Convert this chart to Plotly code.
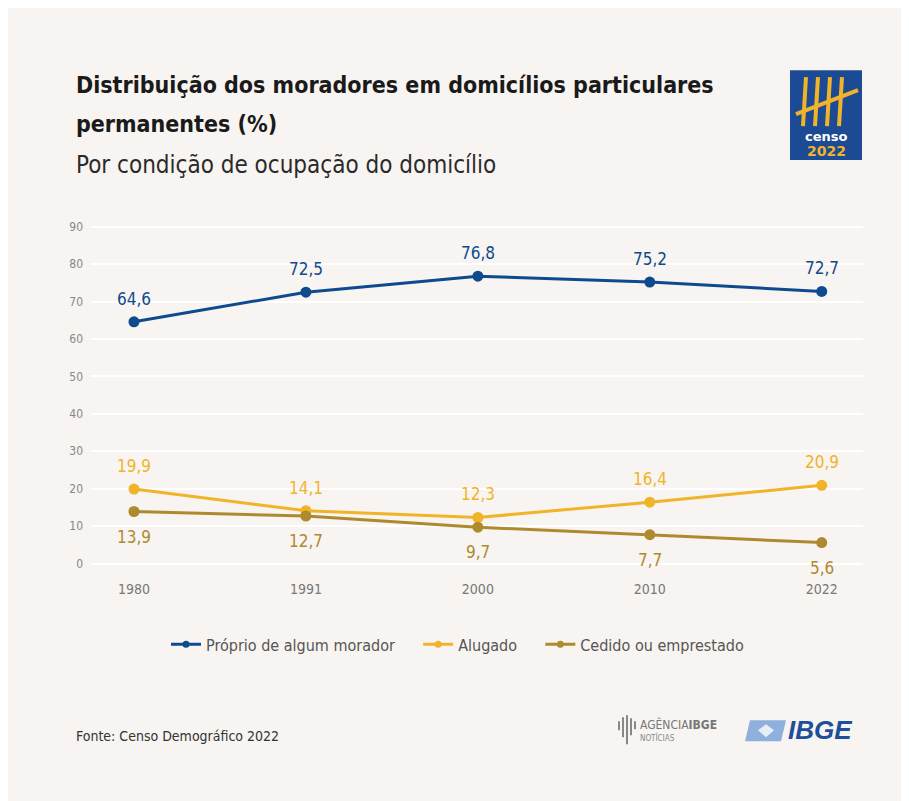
import plotly.graph_objects as go

years = ["1980", "1991", "2000", "2010", "2022"]
proprio = [64.6, 72.5, 76.8, 75.2, 72.7]
alugado = [19.9, 14.1, 12.3, 16.4, 20.9]
cedido = [13.9, 12.7, 9.7, 7.7, 5.6]
series_names = ["Próprio de algum morador", "Alugado", "Cedido ou emprestado"]
y_ticks = [0, 10, 20, 30, 40, 50, 60, 70, 80, 90]

BLUE = "#0e4a8e"
YELLOW = "#f0b429"
BROWN = "#ae8a2e"
BG = "#f7f4f1"
FONT = "Liberation Sans Narrow, DejaVu Sans Condensed, Roboto, sans-serif"

W, H = 909, 801
OX, OY = 8, 8  # page offset of the figure
L, R, T = 83, 54, 215
B = H - 563.5
PW = W - L - R
PH = H - T - B


def px(x):
    return (x - OX - L) / PW


def py(y):
    return (H - B - (y - OY)) / PH


def fmt(v):
    return f"{v:.1f}".replace(".", ",")


fig = go.Figure()
specs = [
    (proprio, series_names[0], BLUE, 23),
    (alugado, series_names[1], YELLOW, 23),
    (cedido, series_names[2], BROWN, -25),
]
annotations = []
for vals, name, color, shift in specs:
    fig.add_trace(go.Scatter(
        x=years, y=vals, name=name, mode="lines+markers", showlegend=False,
        line=dict(color=color, width=3),
        marker=dict(color=color, size=11),
        hoverinfo="skip",
    ))
    for idx, yv in enumerate(vals):
        # category axis: annotation x given as category index
        annotations.append(dict(x=idx, y=yv, xref="x", yref="y", text=fmt(yv), showarrow=False,
                                yshift=shift, xanchor="center", yanchor="middle",
                                font=dict(color=color, size=17, family=FONT)))
for vals, name, color, shift in specs:
    fig.add_trace(go.Scatter(
        x=[None], y=[None], name=name + "\u00a0\u00a0\u00a0\u00a0", mode="lines+markers",
        line=dict(color=color, width=3), marker=dict(color=color, size=7),
        hoverinfo="skip",
    ))

annotations += [
    dict(x=px(74), y=py(85), xref="paper", yref="paper", xanchor="left", yanchor="middle",
         text="<b>Distribuição dos moradores em domicílios particulares</b>", showarrow=False,
         font=dict(size=23, color="#1a1a1a", family=FONT)),
    dict(x=px(74), y=py(124), xref="paper", yref="paper", xanchor="left", yanchor="middle",
         text="<b>permanentes (%)</b>", showarrow=False,
         font=dict(size=23, color="#1a1a1a", family=FONT)),
    dict(x=px(74), y=py(165), xref="paper", yref="paper", xanchor="left", yanchor="middle",
         text="Por condição de ocupação do domicílio", showarrow=False,
         font=dict(size=24, color="#2a2a2a", family=FONT)),
    dict(x=px(74), y=py(737), xref="paper", yref="paper", xanchor="left", yanchor="middle",
         text="Fonte: Censo Demográfico 2022", showarrow=False,
         font=dict(size=14, color="#333333", family=FONT)),
    # Censo logo texts
    dict(x=px(826), y=py(136), xref="paper", yref="paper", xanchor="center", yanchor="middle",
         text="<b>censo</b>", showarrow=False, font=dict(size=13, color="white", family="DejaVu Sans")),
    dict(x=px(826), y=py(151), xref="paper", yref="paper", xanchor="center", yanchor="middle",
         text="<b>2022</b>", showarrow=False, font=dict(size=14, color=YELLOW, family="DejaVu Sans")),
    # Agencia IBGE
    dict(x=px(638), y=py(725), xref="paper", yref="paper", xanchor="left", yanchor="middle",
         text="AGÊNCIA<b>IBGE</b>", showarrow=False, font=dict(size=12, color="#777777", family=FONT)),
    dict(x=px(638), y=py(738), xref="paper", yref="paper", xanchor="left", yanchor="middle",
         text="NOTÍCIAS", showarrow=False, font=dict(size=8, color="#888888", family=FONT)),
    dict(x=px(786), y=py(731), xref="paper", yref="paper", xanchor="left", yanchor="middle",
         text="<b><i>IBGE</i></b>", showarrow=False, font=dict(size=26, color="#1d4f9c", family="Liberation Sans")),
]

shapes = [
    dict(type="rect", xref="paper", yref="paper", x0=px(790), x1=px(862), y0=py(160), y1=py(70),
         fillcolor="#1d4a94", line=dict(width=0), layer="above"),
]
for xx in [803, 815, 827, 839]:
    shapes.append(dict(type="line", xref="paper", yref="paper", x0=px(xx), x1=px(xx + 3),
                       y0=py(126), y1=py(77), line=dict(color=YELLOW, width=4)))
shapes.append(dict(type="line", xref="paper", yref="paper", x0=px(796), x1=px(858),
                   y0=py(114), y1=py(90), line=dict(color=YELLOW, width=4)))
# IBGE light blue mark
shapes.append(dict(type="path", xref="paper", yref="paper",
                   path=f"M {px(750)} {py(721)} L {px(786)} {py(721)} L {px(781)} {py(742)} L {px(745)} {py(742)} Z",
                   fillcolor="#8fb0dc", line=dict(width=0)))
shapes.append(dict(type="path", xref="paper", yref="paper",
                   path=f"M {px(766)} {py(725)} L {px(774)} {py(731)} L {px(766)} {py(738)} L {px(758)} {py(731)} Z",
                   fillcolor="#e8eef7", line=dict(width=0)))
# Agencia bars icon
for xx, h0, h1 in [(619, 722, 731), (623, 718, 738), (627, 716, 745), (631, 719, 736), (635, 722, 730)]:
    shapes.append(dict(type="line", xref="paper", yref="paper", x0=px(xx), x1=px(xx),
                       y0=py(h1), y1=py(h0), line=dict(color="#888888", width=2)))

fig.update_layout(
    width=W, height=H,
    margin=dict(l=L, r=R, t=T, b=B),
    paper_bgcolor=BG, plot_bgcolor=BG,
    font=dict(family=FONT, color="#666666"),
    showlegend=True,
    legend=dict(orientation="h", x=px(467), xanchor="center", y=py(645), yanchor="middle",
                font=dict(size=16, color="#555555", family=FONT), bgcolor="rgba(0,0,0,0)",
                itemwidth=30, traceorder="normal"),
    xaxis=dict(type="category", range=[-0.25, 4.24], showgrid=False, zeroline=False,
               showline=False, ticks="", ticklabelstandoff=8,
               tickfont=dict(size=14, color="#777777", family=FONT)),
    yaxis=dict(range=[-2, 91], tickvals=y_ticks, showgrid=True, gridcolor="white", gridwidth=2,
               zeroline=False, showline=False, ticks="", ticklabelstandoff=7,
               tickfont=dict(size=12, color="#888888", family=FONT)),
    annotations=annotations,
    shapes=shapes,
    hovermode=False,
)

fig.write_html("out.html")
